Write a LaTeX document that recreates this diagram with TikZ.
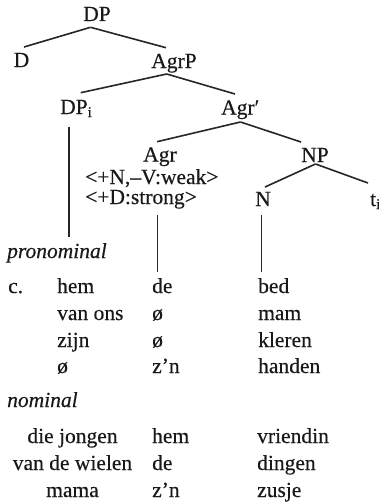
\documentclass[tikz,border=0pt]{standalone}
\usepackage{fontspec}
\setmainfont{Liberation Serif}[FakeBold=0.35]
\begin{document}
\begin{tikzpicture}[x=1pt,y=-1pt,
  every node/.style={inner sep=0pt, font=\fontsize{21.5}{24}\selectfont, text=black!90},
  lbl/.style={anchor=base},
  lw/.style={anchor=base west},
  it/.style={anchor=base west, font=\fontsize{21.5}{24}\selectfont\itshape},
  edge/.style={line width=1.6pt, draw=black!85}]
\useasboundingbox[fill=white] (0,0) rectangle (379,503);
% tree nodes
\node[lbl] (DP) at (97,21) {DP};
\node[lbl] (D) at (21.5,67) {D};
\node[lbl] (AgrP) at (174,68) {AgrP};
\node[lw] (DPi) at (60,114) {DP\textsubscript{i}};
\node[lw] (Agrbar) at (221,114.5) {Agr′};
\node[lbl] (Agr) at (160,161.5) {Agr};
\node[lw] (weak) at (85,184) {<+N,--V:weak>};
\node[lw] (strong) at (85,204) {<+D:strong>};
\node[lbl] (NP) at (315,162) {NP};
\node[lbl] (N) at (263,206) {N};
\node[lw] (t) at (370,206) {t\textsubscript{i}};
% table: pronominal
\node[it] (pron) at (7,258) {pronominal};
\node[lw] (c) at (8,293) {c.};
\node[lw] (a1) at (57,293) {hem};
\node[lw] (a2) at (57,320) {van ons};
\node[lw] (a3) at (57,347) {zijn};
\node[lw] (a4) at (57,373) {ø};
\node[lw] (b1) at (152,293) {de};
\node[lw] (b2) at (152,320) {ø};
\node[lw] (b3) at (152,347) {ø};
\node[lw] (b4) at (152,373) {z’n};
\node[lw] (e1) at (258,293) {bed};
\node[lw] (e2) at (258,320) {mam};
\node[lw] (e3) at (258,347) {kleren};
\node[lw] (e4) at (258,373) {handen};
% table: nominal
\node[it] (nom) at (7,407) {nominal};
\node[lbl] (f1) at (72.5,443) {die jongen};
\node[lbl] (f2) at (72.5,470) {van de wielen};
\node[lbl] (f3) at (72.5,497) {mama};
\node[lw] (g1) at (152,443) {hem};
\node[lw] (g2) at (152,470) {de};
\node[lw] (g3) at (152,497) {z’n};
\node[lw] (h1) at (257,443) {vriendin};
\node[lw] (h2) at (257,470) {dingen};
\node[lw] (h3) at (257,497) {zusje};
% branches
\draw[edge] ([shift={(-6.5,6.3)}]DP.base) -- ([shift={(2.5,-20)}]D.base);
\draw[edge] ([shift={(-6.5,6.3)}]DP.base) -- ([shift={(-8,-20.3)}]AgrP.base);
\draw[edge] ([shift={(-7.3,6)}]AgrP.base) -- ([shift={(20.7,-21.3)}]DPi.base west);
\draw[edge] ([shift={(-7.3,6)}]AgrP.base) -- ([shift={(14,-20.5)}]Agrbar.base west);
\draw[edge] ([shift={(19.5,7.5)}]Agrbar.base west) -- ([shift={(-3,-19.8)}]Agr.base);
\draw[edge] ([shift={(19.5,7.5)}]Agrbar.base west) -- ([shift={(-14,-20)}]NP.base);
\draw[edge] ([shift={(0.5,2)}]NP.base) -- ([shift={(2,-19)}]N.base);
\draw[edge] ([shift={(0.5,2)}]NP.base) -- ([shift={(-2,-23)}]t.base west);
% vertical lines down to the table
\draw[edge] ([shift={(9,12.5)}]DPi.base west) -- ([shift={(62,-21)}]pron.base west);
\draw[edge] ([shift={(72.5,11)}]strong.base west) -- ([shift={(5.5,-21)}]b1.base west);
\draw[edge] ([shift={(-1.5,9)}]N.base) -- ([shift={(3.5,-21)}]e1.base west);
\end{tikzpicture}
\end{document}
